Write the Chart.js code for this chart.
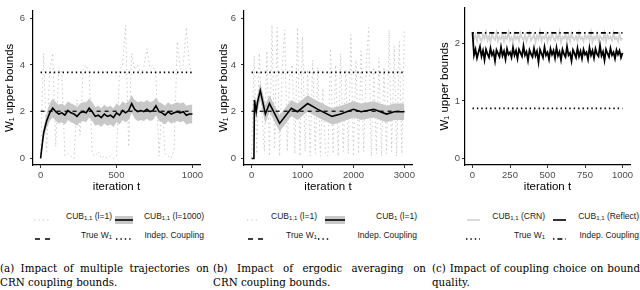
<!DOCTYPE html>
<html>
<head>
<meta charset="utf-8">
<script src="https://cdn.jsdelivr.net/npm/chart.js@4.4.1/dist/chart.umd.min.js"></script>
<style>
  body { margin: 0; width: 640px; height: 290px; position: relative; background: #fff; overflow: hidden;
         font-family: "Liberation Sans", Arial, sans-serif; }
  canvas { position: absolute; top: 0; }
  .lg { position: absolute; font-size: 8.5px; color: #1a1a1a; white-space: nowrap; line-height: 10px; text-align: right; }
  .lg sub { font-size: 6px; vertical-align: -1px; line-height: 0; }
  .key { position: absolute; }
  .cap { position: absolute; font-family: "DejaVu Serif", serif; font-size: 10.3px; color: #000; white-space: nowrap; line-height: 14px; }
  .cap.j { text-align: justify; text-align-last: justify; }
</style>
</head>
<body>
<canvas id="ca" width="215" height="200" style="left:0"></canvas>
<canvas id="cb" width="215" height="200" style="left:215px"></canvas>
<canvas id="cc" width="210" height="200" style="left:430px"></canvas>
<div id="legends"></div>
<div class="cap j" style="left:0;top:261px;width:209px">(a) Impact of multiple trajectories on</div>
<div class="cap" style="left:0;top:275px">CRN coupling bounds.</div>
<div class="cap j" style="left:213px;top:261px;width:213px">(b) Impact of ergodic averaging on</div>
<div class="cap" style="left:213px;top:275px">CRN coupling bounds.</div>
<div class="cap j" style="left:432px;top:261px;width:208px">(c) Impact of coupling choice on bound</div>
<div class="cap" style="left:432px;top:275px">quality.</div>
<script>
// ---- panel (a): multiple trajectories ----
const aIter = [0,20,40,60,80,100,120,140,160,180,200,220,240,260,280,300,320,340,360,380,400,
  420,440,460,480,500,520,540,560,580,600,620,640,660,680,700,720,740,760,780,800,
  820,840,860,880,900,920,940,960,980,1000];
const aSingle = [0,4.5,0.3,3.8,4.5,0.5,3.9,3.7,0.1,0.2,0.1,0.0,2.5,1.0,3.8,4.0,3.6,0.2,0.1,0.3,0.0,
  0.1,0.0,0.1,0.0,0.1,3.8,4.0,5.7,0.5,4.5,3.8,4.0,3.6,3.9,4.7,3.9,4.0,3.5,0.1,2.3,
  0.2,0.1,0.0,0.4,5.0,3.8,4.0,5.6,4.0,3.5];
const aMean = [0,1.1,1.6,1.95,2.15,2.0,1.9,1.95,1.85,2.05,1.95,1.9,1.8,1.95,2.0,1.95,2.15,2.0,1.8,1.85,1.75,
  1.9,1.8,1.85,1.75,1.95,1.85,2.05,1.95,2.05,2.35,2.1,2.0,2.05,2.0,2.1,2.0,2.05,2.25,2.0,1.95,
  1.85,2.0,1.9,1.95,2.0,1.95,2.0,1.85,1.9,1.9];
const aHi = [0,1.35,1.95,2.35,2.55,2.4,2.3,2.35,2.25,2.45,2.35,2.3,2.2,2.35,2.4,2.4,2.55,2.4,2.2,2.25,2.15,
  2.3,2.2,2.25,2.15,2.35,2.25,2.45,2.35,2.45,2.7,2.5,2.4,2.45,2.4,2.5,2.4,2.45,2.6,2.4,2.35,
  2.25,2.4,2.3,2.35,2.4,2.35,2.4,2.25,2.3,2.3];
const aLo = [0,0.85,1.3,1.6,1.75,1.6,1.5,1.55,1.45,1.65,1.55,1.5,1.4,1.55,1.6,1.55,1.75,1.6,1.4,1.45,1.35,
  1.5,1.4,1.45,1.35,1.55,1.45,1.65,1.55,1.65,1.95,1.7,1.6,1.65,1.6,1.7,1.6,1.65,1.85,1.6,1.55,
  1.45,1.6,1.5,1.55,1.6,1.55,1.6,1.45,1.5,1.5];
const aXTicks = [0, 500, 1000];
const aYTicks = [0, 2, 4, 6];

// ---- panel (b): ergodic averaging ----
const bIter = [0,50,100,150,200,250,300,350,400,450,500,550,600,650,700,750,800,850,900,950,1000,
  1050,1100,1150,1200,1250,1300,1350,1400,1450,1500,1550,1600,1650,1700,1750,1800,1850,1900,1950,2000,
  2050,2100,2150,2200,2250,2300,2350,2400,2450,2500,2550,2600,2650,2700,2750,2800,2850,2900,2950,3000];
const bSingle = [0,4.4,0.2,4.5,2.0,0.3,4.6,0.1,5.7,0.4,5.6,0.1,3.9,5.5,0.3,3.8,4.0,0.2,5.6,0.1,5.2,
  0.3,3.8,0.1,4.2,0.2,3.9,0.1,3.0,0.2,0.1,4.7,0.2,4.0,0.1,4.5,0.3,3.8,0.2,5.3,0.1,
  4.2,0.2,4.6,0.3,4.0,5.6,0.1,3.9,0.2,4.3,0.1,3.9,0.2,5.5,0.3,4.8,0.1,5.0,0.2,5.5];
const bAvgIter = [0,45,55,90,115,170,270,350,550,780,900,1100,1300,1580,1750,2000,2150,2400,2650,2800,3000];
const bMean = [0,0,2.5,2.0,2.4,2.9,1.9,2.35,1.5,2.15,2.0,2.35,2.1,1.8,1.9,2.1,2.0,2.1,1.9,2.0,2.0];
const bHi =   [0,0,2.7,2.4,2.75,3.25,2.3,2.7,1.85,2.5,2.35,2.7,2.45,2.15,2.25,2.45,2.35,2.45,2.25,2.35,2.35];
const bLo =   [0,0,2.3,1.6,2.05,2.5,1.5,2.0,1.15,1.8,1.65,2.0,1.75,1.45,1.55,1.75,1.65,1.75,1.55,1.65,1.65];
const bXTicks = [0, 1000, 2000, 3000];
const bYTicks = [0, 2, 4, 6];

const trueW1 = 2.02;
const indepAB = 3.68;

// ---- panel (c): coupling choice ----
const cIter = [0,10,20,30,40,50,60,70,80,90,100,110,120,130,140,150,160,170,180,190,200,
  210,220,230,240,250,260,270,280,290,300,310,320,330,340,350,360,370,380,390,400,
  410,420,430,440,450,460,470,480,490,500,510,520,530,540,550,560,570,580,590,600,
  610,620,630,640,650,660,670,680,690,700,710,720,730,740,750,760,770,780,790,800,
  810,820,830,840,850,860,870,880,890,900,910,920,930,940,950,960,970,980,990,1000];
const cCrn = [2.20,2.08,2.15,2.05,2.18,2.10,2.04,2.16,2.09,2.20,
  2.06,2.13,2.03,2.17,2.10,2.07,2.19,2.05,2.12,2.08,
  2.16,2.04,2.14,2.09,2.20,2.06,2.11,2.03,2.17,2.08,
  2.13,2.05,2.18,2.10,2.07,2.15,2.04,2.12,2.19,2.06,
  2.10,2.16,2.03,2.14,2.08,2.21,2.05,2.12,2.09,2.17,
  2.04,2.13,2.07,2.18,2.10,2.05,2.15,2.08,2.20,2.03,
  2.12,2.09,2.16,2.06,2.14,2.04,2.18,2.10,2.07,2.13,
  2.05,2.19,2.08,2.11,2.04,2.16,2.09,2.14,2.06,2.20,
  2.03,2.12,2.08,2.17,2.05,2.13,2.10,2.07,2.18,2.04,
  2.15,2.09,2.12,2.06,2.19,2.08,2.11,2.04,2.16,2.07,
  2.10];
const cReflect = [2.20,1.80,1.90,1.75,1.85,1.95,1.78,1.88,1.72,1.90,
  1.82,1.76,1.92,1.80,1.86,1.70,1.89,1.83,1.77,1.94,
  1.79,1.87,1.73,1.91,1.81,1.85,1.76,1.93,1.80,1.88,
  1.74,1.90,1.84,1.78,1.96,1.80,1.86,1.71,1.89,1.82,
  1.77,1.92,1.79,1.87,1.68,1.90,1.83,1.76,1.94,1.80,
  1.85,1.73,1.91,1.81,1.88,1.75,1.93,1.79,1.86,1.72,
  1.90,1.82,1.77,1.95,1.80,1.84,1.70,1.89,1.83,1.76,
  1.92,1.78,1.87,1.74,1.90,1.81,1.85,1.73,1.93,1.80,
  1.88,1.75,1.91,1.82,1.78,1.97,1.79,1.86,1.71,1.90,
  1.83,1.77,1.92,1.80,1.85,1.74,1.89,1.81,1.88,1.76,
  1.84];
const cTrueW1 = 0.87;
const cIndep = 2.19;
const cXTicks = [0, 250, 500, 750, 1000];
const cYTicks = [0, 1, 2];

const GREY = '#c8c8c8';
const DOT = [1.4, 3];
const FONT = '"Liberation Sans", Arial, sans-serif';

function pts(xs, ys) { return xs.map((x, i) => ({ x: x, y: ys[i] })); }
function hline(x0, x1, y) { return [{ x: x0, y: y }, { x: x1, y: y }]; }
function line(data, color, width, dash, extra) {
  return Object.assign({ data: data, borderColor: color, borderWidth: width, borderDash: dash || [],
    pointRadius: 0, fill: false, tension: 0, borderCapStyle: 'butt' }, extra || {});
}

function makeChart(id, datasets, o) {
  return new Chart(document.getElementById(id), {
    type: 'line',
    data: { datasets: datasets },
    options: {
      responsive: false, animation: false,
      layout: { padding: { top: 0, right: o.padRight, bottom: 0, left: 0 } },
      plugins: { legend: { display: false }, tooltip: { enabled: false } },
      scales: {
        x: {
          type: 'linear', min: o.xMin, max: o.xMax,
          afterBuildTicks: s => { s.ticks = o.xTicks.map(v => ({ value: v })); },
          afterFit: s => { s.height = 35; },
          border: { display: true, color: '#000', width: 1.2 },
          grid: { display: true, drawOnChartArea: false, drawTicks: true, tickLength: 3, color: '#333' },
          ticks: { color: '#4d4d4d', font: { family: FONT, size: 9.5 }, padding: 2, maxRotation: 0,
                   callback: v => String(v) },
          title: { display: true, text: 'iteration t', color: '#000', font: { family: FONT, size: 11.5 },
                   padding: { top: 0, bottom: 6 } }
        },
        y: {
          type: 'linear', min: o.yMin, max: o.yMax,
          afterBuildTicks: s => { s.ticks = o.yTicks.map(v => ({ value: v })); },
          afterFit: s => { s.width = o.yWidth; },
          border: { display: true, color: '#000', width: 1.2 },
          grid: { display: true, drawOnChartArea: false, drawTicks: true, tickLength: 3, color: '#333' },
          ticks: { color: '#4d4d4d', font: { family: FONT, size: 9.5 }, padding: o.yTickPad,
                   callback: v => String(v) },
          title: { display: true, text: 'W\u2081 upper bounds', color: '#000', font: { family: FONT, size: 11.5 },
                   padding: { top: o.yTitlePad, bottom: 0 } }
        }
      }
    }
  });
}

// (a)
makeChart('ca', [
  line(pts(aIter, aMean), '#000', 1.6),
  line(hline(0, 1000, indepAB), '#000', 1.6, DOT),
  line(hline(0, 1000, trueW1), '#000', 1.2, [4, 4]),
  line(pts(aIter, aHi), 'rgba(0,0,0,0)', 0, [], { fill: '+1', backgroundColor: GREY }),
  line(pts(aIter, aLo), 'rgba(0,0,0,0)', 0),
  line(pts(aIter, aSingle), GREY, 1, DOT)
], { xMin: -50, xMax: 1050, yMin: -0.28, yMax: 6.32, xTicks: aXTicks, yTicks: aYTicks,
     yWidth: 33, padRight: 15, yTickPad: 5, yTitlePad: 3 });

// (b)
makeChart('cb', [
  line(pts(bAvgIter, bMean), '#000', 1.6),
  line(hline(0, 3000, indepAB), '#000', 1.6, DOT),
  line(hline(0, 3000, trueW1), '#000', 1.2, [4, 4]),
  line(pts(bAvgIter, bHi), 'rgba(0,0,0,0)', 0, [], { fill: '+1', backgroundColor: GREY }),
  line(pts(bAvgIter, bLo), 'rgba(0,0,0,0)', 0),
  line(pts(bIter, bSingle), GREY, 1, DOT)
], { xMin: -150, xMax: 3150, yMin: -0.28, yMax: 6.32, xTicks: bXTicks, yTicks: bYTicks,
     yWidth: 29, padRight: 18, yTickPad: 5, yTitlePad: 2 });

// (c)
makeChart('cc', [
  line(hline(0, 1000, cIndep), '#000', 1.6, [1.4, 3, 5, 3]),
  line(pts(cIter, cReflect), '#000', 1.8),
  line(pts(cIter, cCrn), '#d3d3d3', 1.8),
  line(hline(0, 1000, cTrueW1), '#000', 1.6, DOT)
], { xMin: -50, xMax: 1050, yMin: -0.12, yMax: 2.63, xTicks: cXTicks, yTicks: cYTicks,
     yWidth: 35, padRight: 10, yTickPad: 2, yTitlePad: 8 });

// ---- legends (HTML) ----
const legendBox = document.getElementById('legends');
function label(html, right, y) {
  const d = document.createElement('div');
  d.className = 'lg';
  d.style.right = (640 - right) + 'px';
  d.style.top = (y - 5) + 'px';
  d.innerHTML = html;
  legendBox.appendChild(d);
}
function key(x, y, w, inner) {
  const d = document.createElement('div');
  d.className = 'key';
  d.style.left = x + 'px';
  d.style.top = (y - 5) + 'px';
  d.innerHTML = '<svg width="' + w + '" height="10">' + inner + '</svg>';
  legendBox.appendChild(d);
}
function keyLine(w, color, width, dash) {
  return '<line x1="0" y1="5" x2="' + w + '" y2="5" stroke="' + color + '" stroke-width="' + width +
    '" stroke-dasharray="' + (dash || 'none') + '"/>';
}
function keyBand(w) {
  return '<rect x="0" y="1" width="' + w + '" height="8" fill="' + GREY + '"/>' + keyLine(w, '#000', 1.6);
}
const CUB11 = 'CUB<sub>1,1</sub>';
// (a)
key(34, 216, 16, keyLine(16, GREY, 1, '1.4 3'));
label(CUB11 + ' (l=1)', 112, 216);
key(115, 216, 18, keyBand(18));
label(CUB11 + ' (l=1000)', 204, 216);
key(35, 235, 15, keyLine(15, '#000', 1.3, '5 5'));
label('True W<sub>1</sub>', 112, 235);
key(116, 235, 15, keyLine(15, '#000', 1.6, '1.4 3'));
label('Indep. Coupling', 204, 235);
// (b)
key(247, 216, 12, keyLine(12, GREY, 1, '1.4 3'));
label(CUB11 + ' (l=1)', 317, 216);
key(325, 216, 20, keyBand(20));
label('CUB<sub>1</sub> (l=1)', 417, 216);
key(248, 235, 16, keyLine(16, '#000', 1.3, '5 5'));
label('True W<sub>1</sub>', 317, 235);
key(318, 235, 13, keyLine(13, '#000', 1.6, '1.4 3'));
label('Indep. Coupling', 417, 235);
// (c)
key(467, 216, 13, keyLine(13, '#d3d3d3', 1.6));
label(CUB11 + ' (CRN)', 545, 216);
key(553, 216, 13, keyLine(13, '#000', 1.6));
label(CUB11 + ' (Reflect)', 639, 216);
key(466, 235, 14, keyLine(14, '#000', 1.6, '1.4 3'));
label('True W<sub>1</sub>', 545, 235);
key(553, 235, 13, keyLine(13, '#000', 1.6, '1.4 3 5 3'));
label('Indep. Coupling', 639, 235);
</script>
</body>
</html>
